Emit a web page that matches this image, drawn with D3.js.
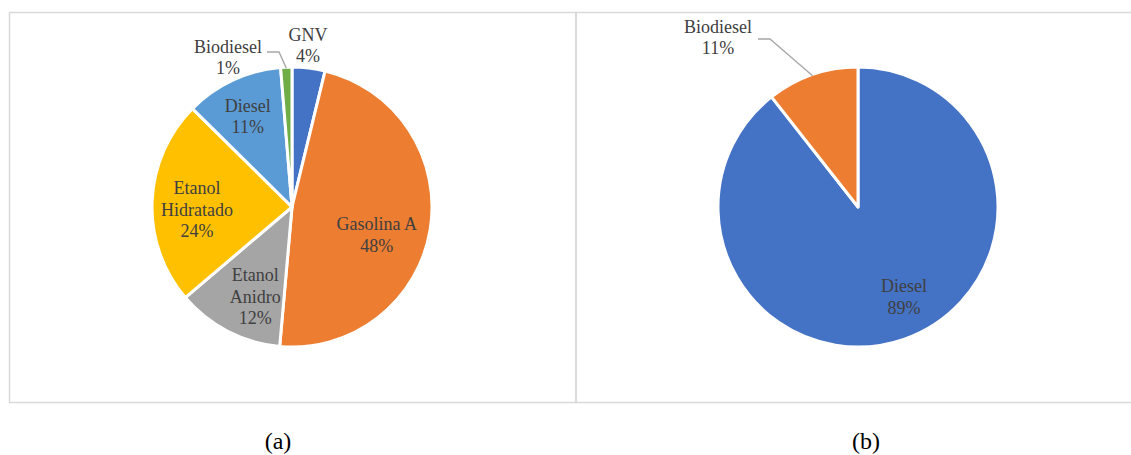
<!DOCTYPE html>
<html><head><meta charset="utf-8">
<script src="https://cdn.jsdelivr.net/npm/d3@7"></script>
<style>body{margin:0;background:#fff}svg{display:block}text{font-family:"Liberation Serif","Times New Roman",serif}</style>
</head><body>
<svg id="c" width="1131" height="455"></svg>
<script>
// Data (shares, %)
const catsA = ["GNV", "Gasolina A", "Etanol Anidro", "Etanol Hidratado", "Diesel", "Biodiesel"];
const valsA = [3.8, 47.6, 12.4, 23.6, 11.3, 1.3];
const labelsA = [["GNV","4%"], ["Gasolina A","48%"], ["Etanol","Anidro","12%"], ["Etanol","Hidratado","24%"], ["Diesel","11%"], ["Biodiesel","1%"]];
const catsB = ["Diesel", "Biodiesel"];
const valsB = [89.4, 10.6];
const labelsB = [["Diesel","89%"], ["Biodiesel","11%"]];
const captions = ["(a)", "(b)"];

// Styles / layout
const colorsA = ["#4472C4", "#ED7D31", "#A5A5A5", "#FFC000", "#5B9BD5", "#70AD47"];
const colorsB = ["#4472C4", "#ED7D31"];
const layoutA = [
  {out:true, x:308, y:45},
  {r:95, dx:-9, dy:12},
  {r:95, dx:7, dy:5},
  {r:95, dx:0, dy:6},
  {r:100, dx:-2, dy:0},
  {out:true, x:228, y:57, leader:true, lx:267, ly:52}
];
const layoutB = [
  {r:95, dx:15, dy:0},
  {out:true, x:718, y:37, leader:true, lx:758, ly:39}
];

const svg = d3.select("#c");
const R = 140;
const fontSize = 18, lineH = 21.5;

// frames
svg.append("rect").attr("x",9.5).attr("y",12.5).attr("width",566.5).attr("height",390)
  .attr("fill","none").attr("stroke","#d9d9d9").attr("stroke-width",1.5);
svg.append("rect").attr("x",576).attr("y",12.5).attr("width",570).attr("height",390)
  .attr("fill","none").attr("stroke","#d9d9d9").attr("stroke-width",1.5);

function drawPie(cx, cy, vals, labels, colors, layout) {
  const g = svg.append("g").attr("transform", `translate(${cx},${cy})`);
  const pie = d3.pie().sort(null).value(d => d);
  const arcs = pie(vals);
  const arc = d3.arc().innerRadius(0).outerRadius(R);
  g.selectAll("path.s").data(arcs).join("path").attr("class","s")
    .attr("d", arc).attr("fill", (d,i) => colors[i])
    .attr("stroke", "#fff").attr("stroke-width", 3).attr("stroke-linejoin","round");

  arcs.forEach((a, i) => {
    const L = layout[i];
    let x, y;
    if (L.out) {
      x = L.x - cx; y = L.y - cy;
      if (L.leader) {
        const mid = (a.startAngle + a.endAngle) / 2;
        const ex = Math.sin(mid) * (R - 1), ey = -Math.cos(mid) * (R - 1);
        const lx = L.lx - cx, ly = L.ly - cy;
        g.append("polyline")
          .attr("points", `${lx},${ly} ${lx+12},${ly} ${ex},${ey}`)
          .attr("fill","none").attr("stroke","#a6a6a6").attr("stroke-width",1.3);
      }
    } else {
      const c = d3.arc().innerRadius(L.r).outerRadius(L.r).centroid(a);
      x = c[0] + L.dx; y = c[1] + L.dy;
    }
    const lines = labels[i];
    const t = g.append("text").attr("text-anchor","middle")
      .attr("font-size", fontSize).attr("fill","#404040");
    const y0 = y - (lines.length - 1) * lineH / 2;
    lines.forEach((s, k) => {
      t.append("tspan").attr("x", x).attr("y", y0 + k * lineH).attr("dy","0.35em").text(s);
    });
  });
}

drawPie(292, 207, valsA, labelsA, colorsA, layoutA);
drawPie(858, 207, valsB, labelsB, colorsB, layoutB);

svg.selectAll("text.cap").data(captions).join("text").attr("class","cap")
  .attr("x", (d,i) => [278, 866][i]).attr("y", 441).attr("dy","0.35em")
  .attr("text-anchor","middle")
  .attr("font-size", 24).attr("fill","#000").text(d => d);
</script>
</body></html>
